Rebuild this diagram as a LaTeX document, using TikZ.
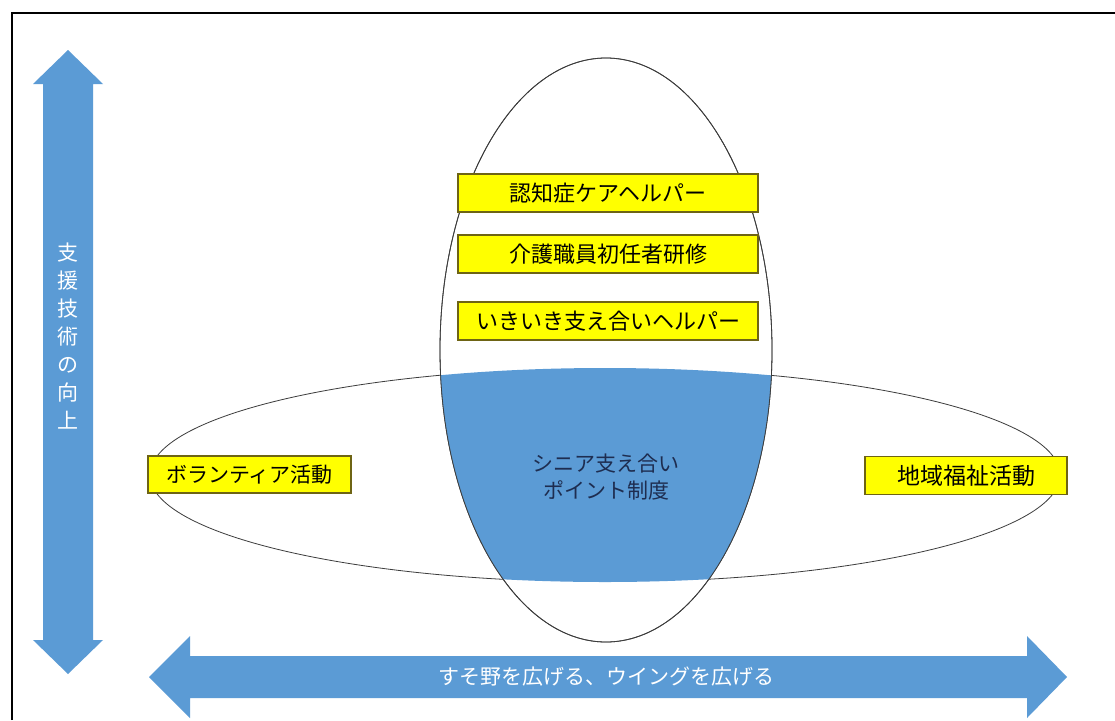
\documentclass[tikz,border=0pt]{standalone}
\usepackage{fontspec}
\newfontfamily\jp{Noto Sans CJK JP}
\definecolor{officeblue}{RGB}{91,155,213}
\definecolor{boxyellow}{RGB}{255,255,0}
\definecolor{boxedge}{RGB}{110,100,20}
\definecolor{ringline}{RGB}{60,60,60}
\definecolor{navytext}{RGB}{30,45,80}
\begin{document}
\begin{tikzpicture}[x=1pt,y=-1pt,
  ybox/.style={draw=boxedge,line width=1.1pt,fill=boxyellow,inner sep=0pt,
    font=\jp\fontsize{22}{26}\selectfont,text=black},
  ring/.style={draw=ringline,line width=0.8pt,fill=white},
  bigarrow/.style={fill=officeblue,draw=none}]
\useasboundingbox (0,0) rectangle (1115,720);
\fill[white] (0,0) rectangle (1115,720);
% frame
\draw[line width=2pt,black] (12,720) -- (12,13) -- (1115,13);

% vertical double arrow
\fill[bigarrow] (68,50) -- (103,84) -- (93,84) -- (93,640) -- (103,640) -- (68,674)
  -- (33,640) -- (43,640) -- (43,84) -- (33,84) -- cycle;
\node[font=\jp\fontsize{21}{28}\selectfont,text=white,align=center,inner sep=0pt] (vlabel) at (68,336)
  {支\\援\\技\\術\\の\\向\\上};

% horizontal double arrow
\fill[bigarrow] (149,677) -- (190,636) -- (190,656) -- (1027,656) -- (1027,636) -- (1067,677)
  -- (1027,718) -- (1027,698) -- (190,698) -- (190,718) -- cycle;
\node[font=\jp\fontsize{21}{26}\selectfont,text=white,inner sep=0pt] (hlabel) at (606,677)
  {すそ野を広げる、ウイングを広げる};

% ellipses
\draw[ring] (605,475) ellipse [x radius=455, y radius=107];
\draw[ring] (606,350) ellipse [x radius=166, y radius=292];
\begin{scope}
  \clip (606,350) ellipse [x radius=166, y radius=292];
  \fill[officeblue] (605,475) ellipse [x radius=455, y radius=107];
\end{scope}
\draw[ringline,line width=0.8pt] (606,350) ellipse [x radius=166, y radius=292];

\node[font=\jp\fontsize{21}{27}\selectfont,text=navytext,align=center,inner sep=0pt] (center) at (606,477)
  {シニア支え合い\\ポイント制度};

% yellow boxes
\node[ybox,minimum width=300pt,minimum height=38pt] (b1) at (608,193) {認知症ケアヘルパー};
\node[ybox,minimum width=300pt,minimum height=38pt] (b2) at (608,254) {介護職員初任者研修};
\node[ybox,minimum width=300pt,minimum height=38pt] (b3) at (608,321) {いきいき支え合いヘルパー};
\node[ybox,minimum width=203pt,minimum height=37pt,font=\jp\fontsize{21}{26}\selectfont] (b4) at (249.5,474.5) {ボランティア活動};
\node[ybox,minimum width=202pt,minimum height=38pt,font=\jp\fontsize{23}{26}\selectfont] (b5) at (966,475.5) {地域福祉活動};
\end{tikzpicture}
\end{document}
